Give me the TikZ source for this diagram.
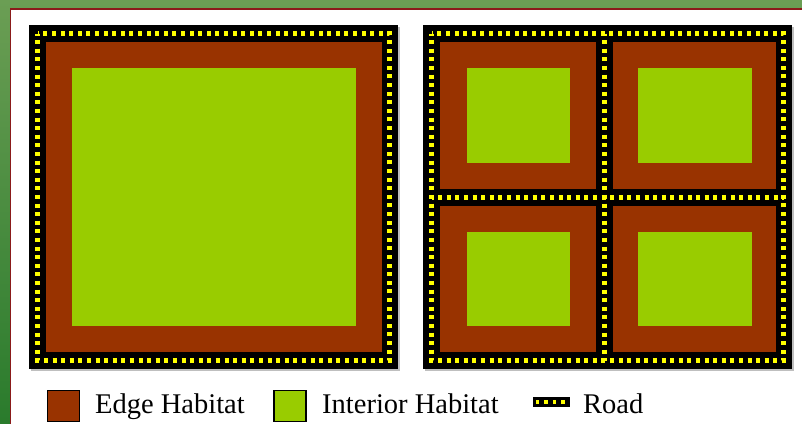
\documentclass[tikz,border=0pt]{standalone}
\usepackage{fontspec}
\setmainfont{Liberation Serif}
\usetikzlibrary{positioning}

\definecolor{edgebrown}{HTML}{993300}
\definecolor{interiorgreen}{HTML}{99CC00}
\definecolor{roadyellow}{HTML}{FFFF00}
\definecolor{framered}{HTML}{8B1A1A}
\definecolor{slidetop}{HTML}{6B9E54}
\definecolor{slidebottom}{HTML}{2A7B2C}

\begin{document}
\begin{tikzpicture}[x=1pt, y=-1pt,
    edge/.style={fill=edgebrown},
    interior/.style={fill=interiorgreen},
    roadbed/.style={fill=black},
    roadline/.style={draw=roadyellow, line width=4.2pt, dash pattern=on 4pt off 4.6pt, dash phase=2pt},
    swatch/.style={draw=black, line width=1.5pt, inner sep=0pt, minimum width=32pt, minimum height=31pt},
    legendtext/.style={font=\fontsize{28.5}{28.5}\selectfont, inner sep=0pt, anchor=base west}]

  \useasboundingbox (0,0) rectangle (802,423);
  \clip (0,0) rectangle (802,423);

  % Slide frame
  \shade[top color=slidetop, bottom color=slidebottom] (0,0) rectangle (802,423);
  \draw[framered, line width=1.5pt, fill=white] (10.5,9) rectangle (830,450);

  % One large patch
  \fill[black!25] (31,27) rectangle (400,371);
  \fill[roadbed] (29,25) rectangle (398,369);
  \fill[edge] (46,42) rectangle (382,352);
  \fill[interior] (72,68) rectangle (356,326);
  \draw[roadline] (37.5,33.5) rectangle (389.5,360.5);

  % Four small patches
  \fill[black!25] (425,27) rectangle (794,371);
  \fill[roadbed] (423,25) rectangle (792,369);
  \fill[edge] (440,42) rectangle (596,189);
  \fill[edge] (613,42) rectangle (776,189);
  \fill[edge] (440,206) rectangle (596,352);
  \fill[edge] (613,206) rectangle (776,352);
  \fill[interior] (467,68) rectangle (570,163);
  \fill[interior] (638,68) rectangle (752,163);
  \fill[interior] (467,232) rectangle (570,326);
  \fill[interior] (638,232) rectangle (752,326);
  \draw[roadline] (431.5,33.5) rectangle (783.5,360.5);
  \draw[roadline] (604.5,33.5) -- (604.5,360.5);
  \draw[roadline] (431.5,197.5) -- (783.5,197.5);

  % Legend
  \node[swatch, fill=edgebrown] (edgekey) at (63.5,406) {};
  \node[legendtext] (edgetext) at (95,413) {Edge Habitat};
  \node[swatch, fill=interiorgreen] (interiorkey) at (290,406) {};
  \node[legendtext] (interiortext) at (322,413) {Interior Habitat};
  \node[fill=black, inner sep=0pt, minimum width=37pt, minimum height=10pt] (roadkey) at (551.5,402) {};
  \draw[roadline, line width=3.5pt, dash pattern=on 3.5pt off 5pt, dash phase=0pt]
    ([xshift=3pt]roadkey.west) -- ([xshift=-2pt]roadkey.east);
  \node[legendtext] (roadtext) at (583,413) {Road};
\end{tikzpicture}
\end{document}
